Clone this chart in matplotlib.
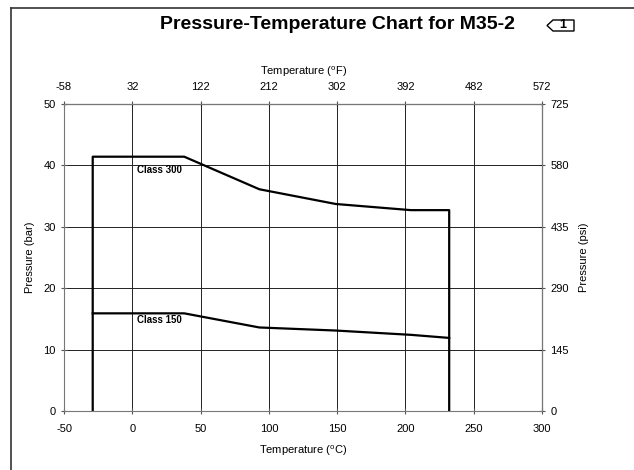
import matplotlib
matplotlib.use("Agg")
import matplotlib.pyplot as plt
from matplotlib.lines import Line2D
from matplotlib.patches import Polygon

plt.rcParams['font.family'] = ['Liberation Sans', 'DejaVu Sans']
plt.rcParams['axes.unicode_minus'] = False

# Rating data (temperature in deg C, pressure in bar)
temp_300 = [-29, -29, 38, 93, 149, 204, 232, 232]
pres_300 = [0, 41.4, 41.4, 36.1, 33.7, 32.7, 32.7, 0]
temp_150 = [-29, 38, 93, 149, 204, 232]
pres_150 = [15.9, 15.9, 13.6, 13.1, 12.4, 11.9]

c_ticks = [-50, 0, 50, 100, 150, 200, 250, 300]
f_ticks = [-58, 32, 122, 212, 302, 392, 482, 572]
bar_ticks = [0, 10, 20, 30, 40, 50]
psi_ticks = [0, 145, 290, 435, 580, 725]

fig = plt.figure(figsize=(6.34, 4.70), dpi=100)
ax = fig.add_axes([0.101, 0.1255, 0.754, 0.6535])

ax.plot(temp_300, pres_300, color='black', lw=1.6)
ax.plot(temp_150, pres_150, color='black', lw=1.6)
ax.text(3.5, 39.3, 'Class 300', fontsize=7, fontweight='bold', va='center')
ax.text(3.5, 14.8, 'Class 150', fontsize=7, fontweight='bold', va='center')

ax.set_xlim(-50, 300)
ax.set_ylim(0, 50)
ax.set_xticks(c_ticks)
ax.set_yticks(bar_ticks)
ax.grid(True, color='#222222', lw=0.7)
for s in ax.spines.values():
    s.set_color('#777777')
ax.tick_params(direction='inout', length=5, labelsize=8, color='#555555')
ax.tick_params(axis='x', pad=7)
ax.set_xlabel(r'Temperature ($^\mathregular{o}$C)', fontsize=8, labelpad=7)
ax.set_ylabel('Pressure (bar)', fontsize=8, labelpad=6)

# Fahrenheit scale on top
top = ax.secondary_xaxis('top', functions=(lambda c: c * 9 / 5 + 32, lambda f: (f - 32) * 5 / 9))
top.set_xticks(f_ticks)
top.tick_params(direction='inout', length=5, labelsize=8, color='#555555', pad=6)
top.set_xlabel(r'Temperature ($^\mathregular{o}$F)', fontsize=8, labelpad=5)

# psi scale on right
right = ax.secondary_yaxis('right', functions=(lambda b: b * 14.5, lambda p: p / 14.5))
right.set_yticks(psi_ticks)
right.tick_params(direction='inout', length=5, labelsize=8, color='#555555')
right.set_ylabel('Pressure (psi)', fontsize=8, labelpad=7)

fig.text(0.532, 0.948, 'Pressure-Temperature Chart for M35-2', fontsize=14,
         fontweight='bold', ha='center', va='center')

# revision flag
flag = Polygon([(547 / 634, 1 - 25.5 / 470), (553 / 634, 1 - 20 / 470), (574 / 634, 1 - 20 / 470),
                (574 / 634, 1 - 31 / 470), (553 / 634, 1 - 31 / 470)],
               closed=True, fill=False, edgecolor='black', lw=1, transform=fig.transFigure)
fig.patches.append(flag)
fig.text(563 / 634, 1 - 25.5 / 470, '1', fontsize=9, fontweight='bold', ha='center', va='center')

# page frame
fig.add_artist(Line2D([11 / 634, 11 / 634], [0, 1 - 8 / 470], color='#333333', lw=1.2))
fig.add_artist(Line2D([11 / 634, 1], [1 - 8 / 470, 1 - 8 / 470], color='#333333', lw=1.2))

fig.savefig('out.png', dpi=100)
